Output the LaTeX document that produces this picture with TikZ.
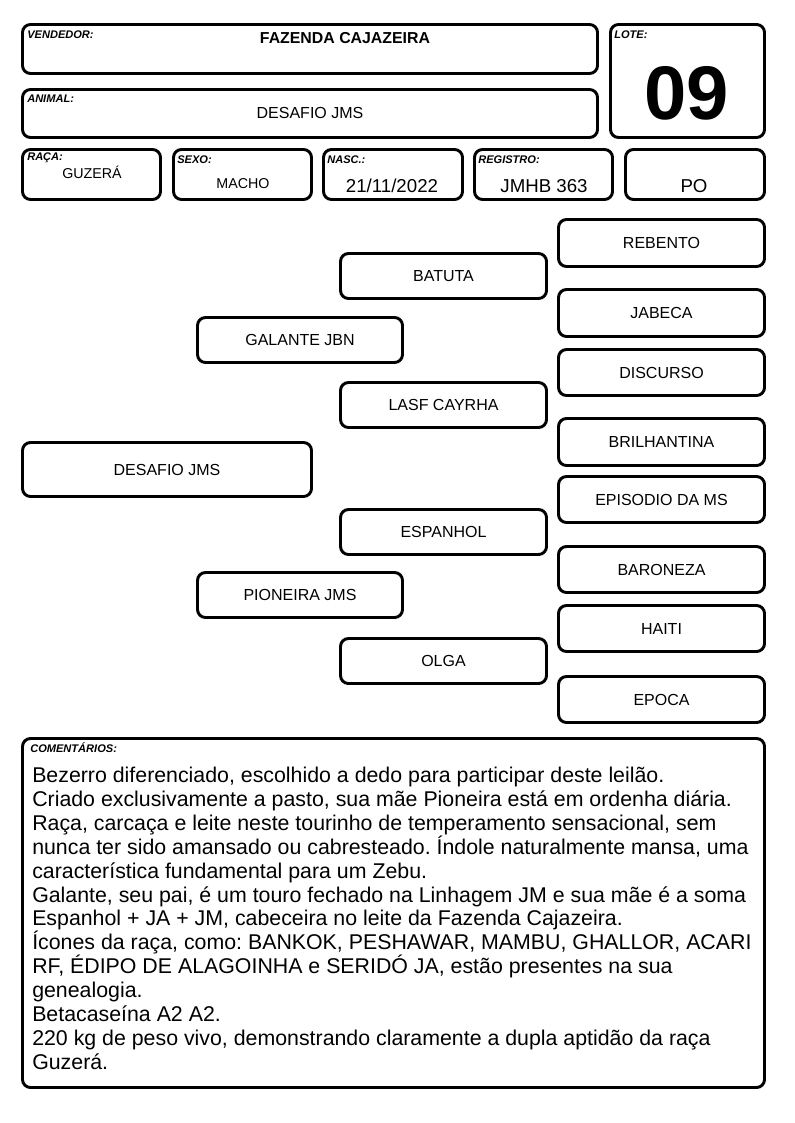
\documentclass[tikz,border=0pt]{standalone}
\usepackage{fontspec}
\setmainfont{Liberation Sans}
\begin{document}
\frenchspacing
\begin{tikzpicture}[x=0.75pt,y=-0.75pt,
  box/.style={draw=black, line width=2.2pt, rounded corners=6pt, inner sep=0pt},
  lbl/.style={anchor=west, inner sep=0pt, font=\fontsize{8.3}{10}\selectfont\bfseries\itshape},
  val/.style={inner sep=0pt, font=\fontsize{10.7}{13}\selectfont},
  bigval/.style={inner sep=0pt, font=\fontsize{14}{16}\selectfont},
  ped/.style={font=\fontsize{12}{14}\selectfont}]
\useasboundingbox (0,0) rectangle (794,1123);
\newcommand\pbox[7][]{\node[box,#1, minimum width={(#4-#2)*0.75pt}, minimum height={(#5-#3)*0.75pt}] (#6) at ({(#2+#4)/2},{(#3+#5)/2}) {#7};}
% header boxes
\pbox{22.5}{24.5}{597.5}{73.5}{vend}{}
\pbox{22.5}{89.5}{597.5}{137.5}{anim}{}
\pbox{610.5}{24.5}{764.5}{137.5}{lote}{}
\pbox{22.5}{149.5}{160.5}{199.5}{raca}{}
\pbox{173.5}{149.5}{311.5}{199.5}{sexo}{}
\pbox{323.5}{149.5}{462.5}{199.5}{nasc}{}
\pbox{474.5}{149.5}{612.5}{199.5}{reg}{}
\pbox{625.5}{149.5}{764.5}{199.5}{po}{}
% header labels
\node[lbl] (lvend) at (27,35) {VENDEDOR:};
\node[inner sep=0pt, font=\fontsize{11.9}{14}\selectfont\bfseries] (tvend) at (345,38) {FAZENDA CAJAZEIRA};
\node[lbl] (lanim) at (27,99) {ANIMAL:};
\node[inner sep=0pt, font=\fontsize{12}{14}\selectfont] (tanim) at (310,113) {DESAFIO JMS};
\node[lbl] (llote) at (614,35) {LOTE:};
\node[inner sep=0pt, font=\fontsize{57}{62}\selectfont\bfseries] (tlote) at (687,93) {09};
\node[lbl] (lraca) at (27,158) {RAÇA:};
\node[val] (traca) at (92,172) {GUZERÁ};
\node[lbl] (lsexo) at (177,160) {SEXO:};
\node[val] (tsexo) at (243,184) {MACHO};
\node[lbl] (lnasc) at (327,160) {NASC.:};
\node[bigval] (tnasc) at (392,186) {21/11/2022};
\node[lbl] (lreg) at (478,160) {REGISTRO:};
\node[bigval] (treg) at (544,186) {JMHB 363};
\node[bigval] (tpo) at (694,186) {PO};
% pedigree
\pbox[ped]{22.5}{442.5}{311.5}{496.5}{animal}{DESAFIO JMS}
\pbox[ped]{197.5}{317.5}{402.5}{362.5}{pai}{GALANTE JBN}
\pbox[ped]{197.5}{572.5}{402.5}{617.5}{mae}{PIONEIRA JMS}
\pbox[ped]{340.5}{253.5}{546.5}{298.5}{avp}{BATUTA}
\pbox[ped]{340.5}{382.5}{546.5}{427.5}{avpm}{LASF CAYRHA}
\pbox[ped]{340.5}{509.5}{546.5}{554.5}{avm}{ESPANHOL}
\pbox[ped]{340.5}{638.5}{546.5}{683.5}{avmm}{OLGA}
\pbox[ped]{558.5}{219.5}{764.5}{266.5}{b1}{REBENTO}
\pbox[ped]{558.5}{289.5}{764.5}{336.5}{b2}{JABECA}
\pbox[ped]{558.5}{349.5}{764.5}{395.5}{b3}{DISCURSO}
\pbox[ped]{558.5}{418.5}{764.5}{465.5}{b4}{BRILHANTINA}
\pbox[ped]{558.5}{476.5}{764.5}{522.5}{b5}{EPISODIO DA MS}
\pbox[ped]{558.5}{546.5}{764.5}{592.5}{b6}{BARONEZA}
\pbox[ped]{558.5}{605.5}{764.5}{651.5}{b7}{HAITI}
\pbox[ped]{558.5}{676.5}{764.5}{722.5}{b8}{EPOCA}
% comments
\pbox{22.5}{738.5}{764.5}{1087.5}{coment}{}
\node[lbl] (lcom) at (30,748) {COMENTÁRIOS:};
\node[anchor=north west, inner sep=0pt, align=left, font=\fontsize{16}{17.9}\selectfont] (tcom) at (32,767) {Bezerro diferenciado, escolhido a dedo para participar deste leilão.\\
Criado exclusivamente a pasto, sua mãe Pioneira está em ordenha diária.\\
Raça, carcaça e leite neste tourinho de temperamento sensacional, sem\\
nunca ter sido amansado ou cabresteado. Índole naturalmente mansa, uma\\
característica fundamental para um Zebu.\\
Galante, seu pai, é um touro fechado na Linhagem JM e sua mãe é a soma\\
Espanhol + JA + JM, cabeceira no leite da Fazenda Cajazeira.\\
Ícones da raça, como: BANKOK, PESHAWAR, MAMBU, GHALLOR, ACARI\\
RF, ÉDIPO DE ALAGOINHA e SERIDÓ JA, estão presentes na sua\\
genealogia.\\
Betacaseína A2 A2.\\
220 kg de peso vivo, demonstrando claramente a dupla aptidão da raça\\
Guzerá.};
\end{tikzpicture}
\end{document}
